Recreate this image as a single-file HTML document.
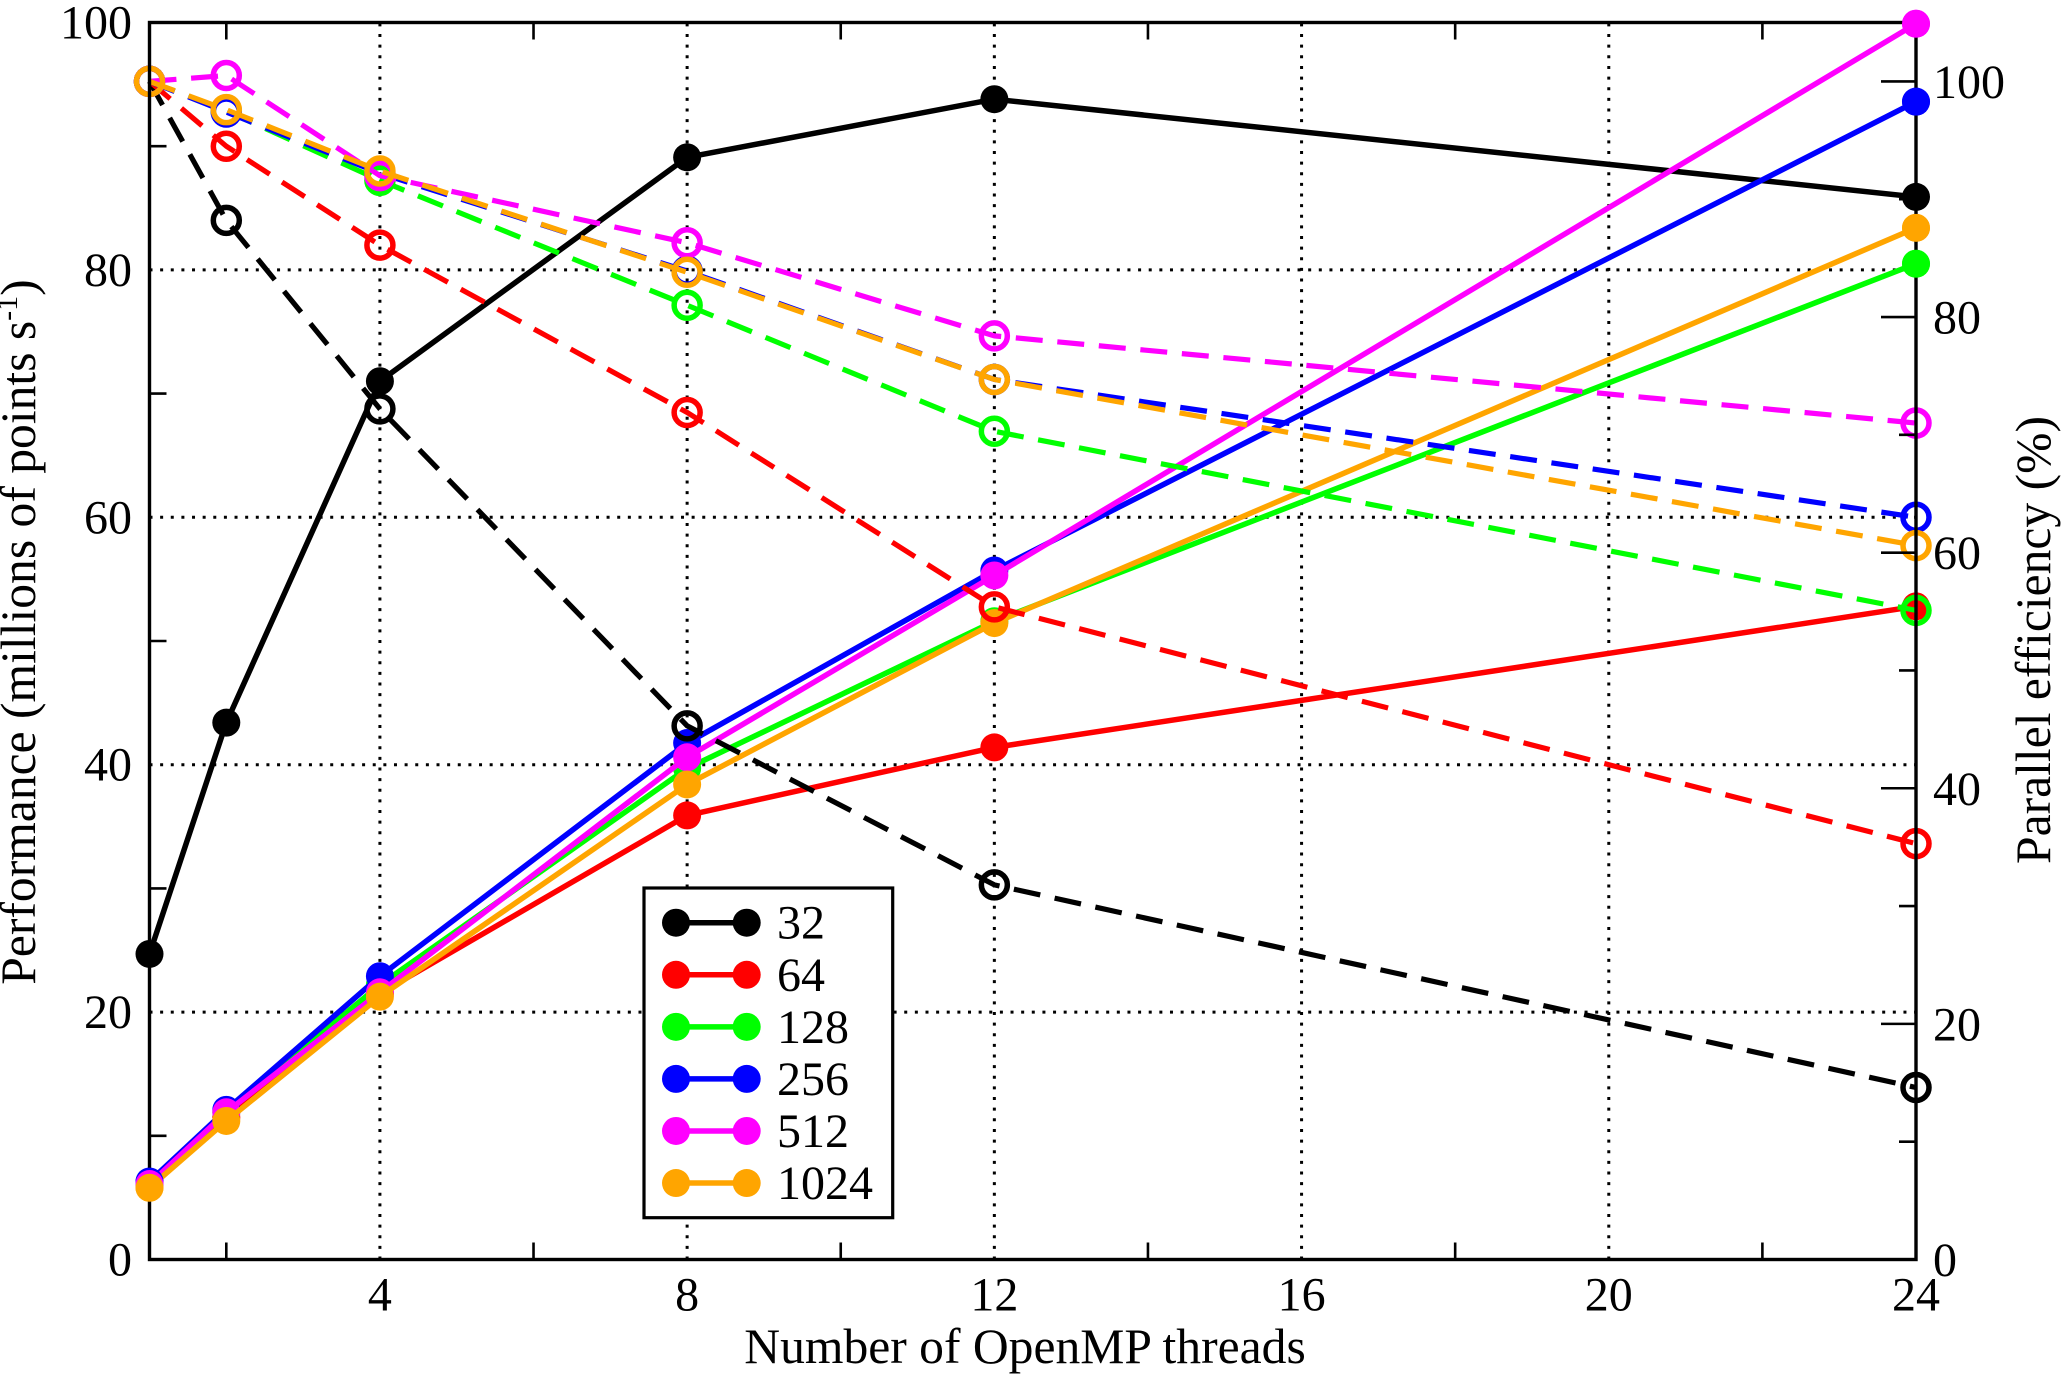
<!DOCTYPE html>
<html lang="en">
<head>
<meta charset="utf-8">
<title>OpenMP thread scaling</title>
<style>
html,body{margin:0;padding:0;background:#fff;width:2067px;height:1380px;overflow:hidden}
svg{display:block}
text{font-family:"Liberation Serif","DejaVu Serif",serif;fill:#000;font-size:48px}
.axis-title{font-size:49.6px}
</style>
</head>
<body>
<svg id="chart" xmlns="http://www.w3.org/2000/svg" width="2067" height="1380" viewBox="0 0 2067 1380">
<rect x="0" y="0" width="2067" height="1380" fill="#fff"/>
<g id="grid"></g>
<g id="solid"></g>
<g id="dashed"></g>
<g id="frame"></g>
<g id="ends"></g>
<g id="labels"></g>
<g id="legend"></g>
<text class="axis-title" x="1025" y="1363" text-anchor="middle">Number of OpenMP threads</text>
<text class="axis-title" transform="translate(35 632) rotate(-90)" text-anchor="middle">Performance (millions of points s<tspan font-size="30" dy="-18">-1</tspan><tspan dy="18">)</tspan></text>
<text class="axis-title" transform="translate(2050 640) rotate(-90)" text-anchor="middle">Parallel efficiency (%)</text>
</svg>
<script>
const threads = [1, 2, 4, 8, 12, 24];
const seriesNames = ['32', '64', '128', '256', '512', '1024'];
const seriesColors = ['#000000', '#ff0000', '#00ff00', '#0000ff', '#ff00ff', '#ffa500'];
const perf32 = [24.7, 43.4, 71.0, 89.1, 93.8, 85.9];
const perf64 = [6.0, 11.5, 21.5, 35.9, 41.4, 52.8];
const perf128 = [6.1, 11.9, 22.2, 39.7, 51.6, 80.5];
const perf256 = [6.3, 12.1, 22.9, 41.75, 55.7, 93.6];
const perf512 = [6.1, 11.9, 21.6, 40.6, 55.3, 99.9];
const perf1024 = [5.8, 11.2, 21.25, 38.4, 51.45, 83.4];
const eff32 = [100, 88.2, 72.2, 45.3, 31.8, 14.6];
const eff64 = [100, 94.5, 86.1, 71.9, 55.4, 35.3];
const eff128 = [100, 97.5, 91.6, 81.0, 70.3, 55.1];
const eff256 = [100, 97.4, 92.2, 83.9, 74.7, 63.0];
const eff512 = [100, 100.5, 92.0, 86.3, 78.4, 71.0];
const eff1024 = [100, 97.6, 92.4, 83.8, 74.7, 60.6];
const xTickLabels = [4, 8, 12, 16, 20, 24];
const xMinorTicks = [2, 6, 10, 14, 18, 22];
const xGridValues = [4, 8, 12, 16, 20];
const leftTickLabels = [0, 20, 40, 60, 80, 100];
const leftGridValues = [20, 40, 60, 80];
const leftMinorTicks = [10, 30, 50, 70, 90];
const rightTickLabels = [0, 20, 40, 60, 80, 100];
const rightMinorTicks = [10, 30, 50, 70, 90];

const perfSeries = [perf32, perf64, perf128, perf256, perf512, perf1024];
const effSeries = [eff32, eff64, eff128, eff256, eff512, eff1024];

const plotL = 149.5, plotR = 1916, plotT = 22.5, plotB = 1259.5;
const xMin = 1, xMax = 24, yLeftMax = 100, yRightMax = 105;
function xScale(t) { return plotL + (t - xMin) / (xMax - xMin) * (plotR - plotL); }
function yLeft(v) { return plotB - v / yLeftMax * (plotB - plotT); }
function yRight(v) { return plotB - v / yRightMax * (plotB - plotT); }

const NS = 'http://www.w3.org/2000/svg';
function mk(tag, attrs, parent) {
  const el = document.createElementNS(NS, tag);
  for (const k in attrs) el.setAttribute(k, attrs[k]);
  parent.appendChild(el);
  return el;
}
const gGrid = document.getElementById('grid');
const gSolid = document.getElementById('solid');
const gDashed = document.getElementById('dashed');
const gFrame = document.getElementById('frame');
const gEnds = document.getElementById('ends');
const gLabels = document.getElementById('labels');
const gLegend = document.getElementById('legend');

const gridStyle = { stroke: '#000', 'stroke-width': 3, 'stroke-dasharray': '3 7.63', fill: 'none' };
leftGridValues.forEach(function (v) {
  const el = mk('line', Object.assign({ x1: plotL, x2: plotR, y1: yLeft(v), y2: yLeft(v) }, gridStyle), gGrid);
  
  
});
xGridValues.forEach(function (t) {
  const el = mk('line', Object.assign({ x1: xScale(t), x2: xScale(t), y1: plotB, y2: plotT }, gridStyle), gGrid);
  
  
});

function pointsOf(values, yFn) {
  return values.map(function (v, i) { return xScale(threads[i]) + ',' + yFn(v); }).join(' ');
}

perfSeries.forEach(function (values, s) {
  const line = mk('polyline', { points: pointsOf(values, yLeft), fill: 'none', stroke: seriesColors[s], 'stroke-width': 5.5, 'stroke-linejoin': 'round' }, gSolid);
  
  
  values.forEach(function (v, i) {
    const dot = mk('circle', { cx: xScale(threads[i]), cy: yLeft(v), r: 14, fill: seriesColors[s] }, gSolid);
    
    
  });
});

effSeries.forEach(function (values, s) {
  const line = mk('polyline', { points: pointsOf(values, yRight), fill: 'none', stroke: seriesColors[s], 'stroke-width': 5.2, 'stroke-dasharray': '27 14.7', 'stroke-linejoin': 'round' }, gDashed);
  
  
  values.forEach(function (v, i) {
    const dot = mk('circle', { cx: xScale(threads[i]), cy: yRight(v), r: 13, fill: 'none', stroke: seriesColors[s], 'stroke-width': 5.5 }, gDashed);
    
    
  });
});

const border = mk('rect', { x: plotL, y: plotT, width: plotR - plotL, height: plotB - plotT, fill: 'none', stroke: '#000', 'stroke-width': 3.4 }, gFrame);



function tick(x1, y1, x2, y2) {
  const el = mk('line', { x1: x1, y1: y1, x2: x2, y2: y2, stroke: '#000', 'stroke-width': 2.6 }, gFrame);
  
  
}
const minorLen = 17, majorLen = 35;
xMinorTicks.forEach(function (t) {
  tick(xScale(t), plotB, xScale(t), plotB - minorLen);
  tick(xScale(t), plotT, xScale(t), plotT + minorLen);
});
leftMinorTicks.forEach(function (v) { tick(plotL, yLeft(v), plotL + minorLen, yLeft(v)); });
rightMinorTicks.forEach(function (v) { tick(plotR, yRight(v), plotR - minorLen, yRight(v)); });
rightTickLabels.forEach(function (v) { if (v > 0) tick(plotR, yRight(v), plotR - majorLen, yRight(v)); });

/* filled markers of the later series sit above the frame at the plot edges */
perfSeries.forEach(function (values, s) {
  if (s < 2) return;
  [0, values.length - 1].forEach(function (i) {
    const dot = mk('circle', { cx: xScale(threads[i]), cy: yLeft(values[i]), r: 14, fill: seriesColors[s] }, gEnds);
    
    
  });
});

xTickLabels.forEach(function (t) {
  const el = mk('text', { x: xScale(t), y: 1310.5, 'text-anchor': 'middle' }, gLabels);
  el.textContent = t;
  
  
});
leftTickLabels.forEach(function (v) {
  const el = mk('text', { x: 132, y: yLeft(v) + 16, 'text-anchor': 'end' }, gLabels);
  el.textContent = v;
  
  
});
rightTickLabels.forEach(function (v) {
  const el = mk('text', { x: 1933, y: yRight(v) + 16.5, 'text-anchor': 'start' }, gLabels);
  el.textContent = v;
  
  
});

const legendBox = mk('rect', { x: 644, y: 888, width: 248.7, height: 329.7, fill: '#fff', stroke: '#000', 'stroke-width': 3.2 }, gLegend);


seriesNames.forEach(function (name, i) {
  const rowY = 922.7 + i * 52.07;
  const row = mk('g', {}, gLegend);
  
  
  const ln = mk('line', { x1: 676, x2: 746.7, y1: rowY, y2: rowY, stroke: seriesColors[i], 'stroke-width': 5.5 }, row);
  
  
  [676, 746.7].forEach(function (cx) {
    const dot = mk('circle', { cx: cx, cy: rowY, r: 14, fill: seriesColors[i] }, row);
    
    
  });
  const label = mk('text', { x: 777, y: rowY + 16 }, row);
  label.textContent = name;
  
  
});
</script>
</body>
</html>
